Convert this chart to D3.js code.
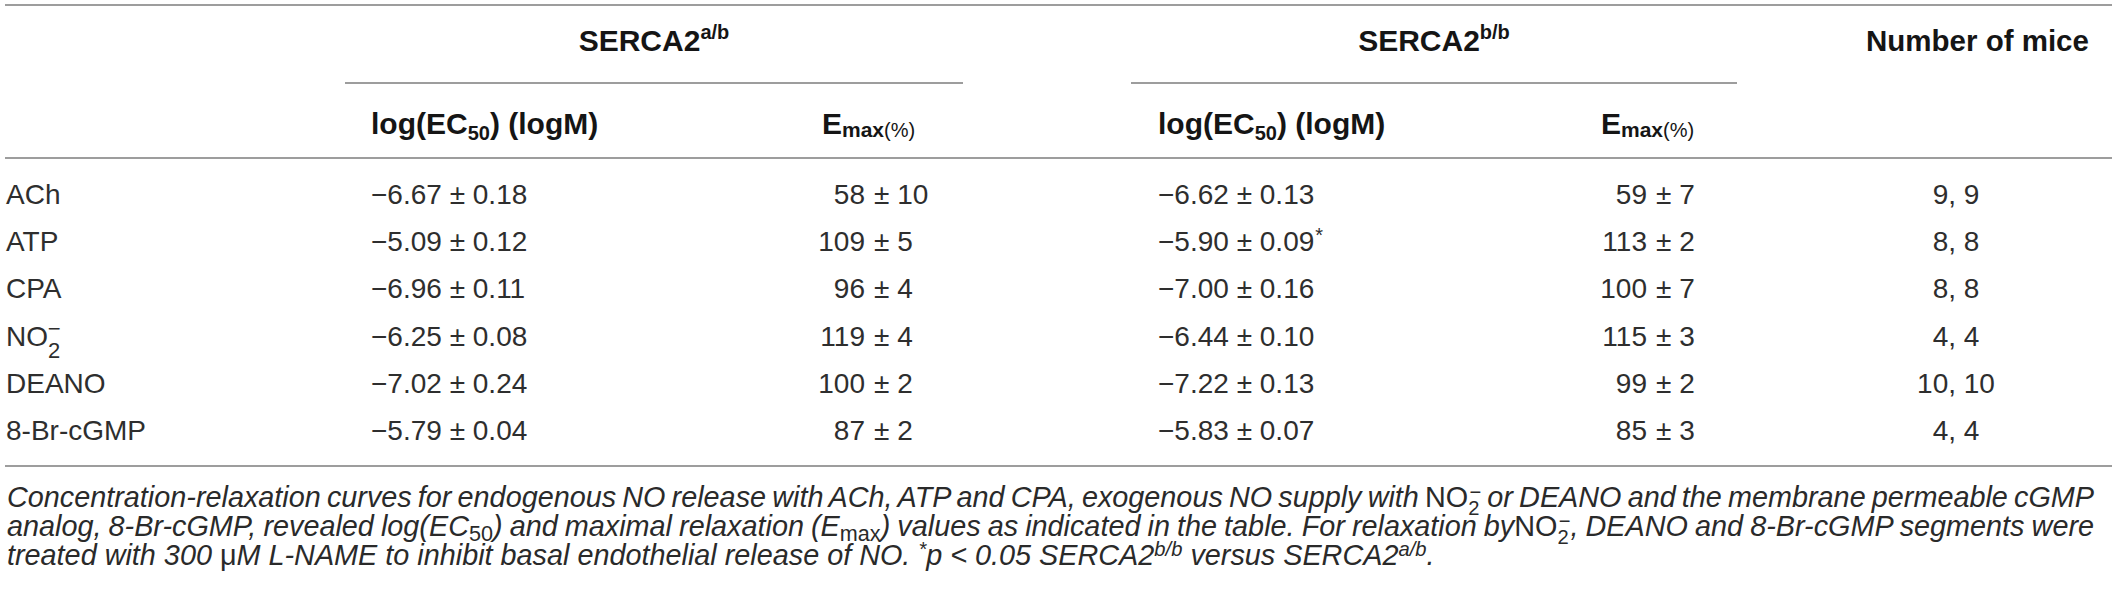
<!DOCTYPE html>
<html><head><meta charset="utf-8">
<script src="https://cdn.jsdelivr.net/npm/d3@7"></script>
<style>html,body{margin:0;padding:0;background:#fff;} svg{display:block;}</style>
</head><body>
<svg id="chart" width="2118" height="594"></svg>
<script>
// ---------- DATA ----------
const agents = ["ACh", "ATP", "CPA", "NO2", "DEANO", "8-Br-cGMP"];
const logEC50_ab     = [-6.67, -5.09, -6.96, -6.25, -7.02, -5.79];
const logEC50_ab_sem = [0.18, 0.12, 0.11, 0.08, 0.24, 0.04];
const emax_ab        = [58, 109, 96, 119, 100, 87];
const emax_ab_sem    = [10, 5, 4, 4, 2, 2];
const logEC50_bb     = [-6.62, -5.90, -7.00, -6.44, -7.22, -5.83];
const logEC50_bb_sem = [0.13, 0.09, 0.16, 0.10, 0.13, 0.07];
const emax_bb        = [59, 113, 100, 115, 99, 85];
const emax_bb_sem    = [7, 2, 7, 3, 2, 3];
const signif_bb      = [false, true, false, false, false, false];
const mice_ab        = [9, 8, 8, 4, 10, 4];
const mice_bb        = [9, 8, 8, 4, 10, 4];
const groupLabels    = [["SERCA2", "a/b"], ["SERCA2", "b/b"]];
const miceHeader     = "Number of mice";

// ---------- LAYOUT ----------
const FONT = "'Liberation Sans', Arial, Helvetica, sans-serif";
const svg = d3.select("#chart").attr("font-family", FONT);
const y = d3.scalePoint().domain(agents).range([204, 440]);
const colX = {label: 6, log1: 371, em1: 874, log2: 1158, em2: 1656, mice: 1956};
const emHeadX = {em1: 822, em2: 1601};
const groupSpan = [[345, 963], [1131, 1737]];
const RULE = "#7d7d7d", TXT = "#2e2e2e", HEAD = "#151515";

function rich(text, segs) {
  let cur = 0;
  segs.forEach(s => {
    const off = s.off || 0;
    const ts = text.append("tspan").text(s.t).attr("dy", off - cur);
    cur = off;
    if (s.size) ts.attr("font-size", s.size);
    if (s.weight) ts.attr("font-weight", s.weight);
    if (s.style) ts.attr("font-style", s.style);
    if (s.dx) ts.attr("dx", s.dx);
  });
  return text;
}

// rules
const rules = [
  {x1: 5, x2: 2112, y: 5},
  {x1: groupSpan[0][0], x2: groupSpan[0][1], y: 83},
  {x1: groupSpan[1][0], x2: groupSpan[1][1], y: 83},
  {x1: 5, x2: 2112, y: 158},
  {x1: 5, x2: 2112, y: 466}
];
svg.selectAll("line.rule").data(rules).join("line")
  .attr("class", "rule")
  .attr("x1", d => d.x1).attr("x2", d => d.x2)
  .attr("y1", d => d.y).attr("y2", d => d.y)
  .attr("stroke", RULE).attr("stroke-width", 1.7);

// header row 1
groupLabels.forEach((g, i) => {
  const t = svg.append("text")
    .attr("x", (groupSpan[i][0] + groupSpan[i][1]) / 2).attr("y", 51)
    .attr("text-anchor", "middle").attr("font-size", 30).attr("font-weight", "bold").attr("fill", HEAD);
  rich(t, [{t: g[0]}, {t: g[1], size: 20, off: -12}]);
});
svg.append("text").attr("x", 1866).attr("y", 51).attr("font-size", 29.5)
  .attr("font-weight", "bold").attr("fill", HEAD).text(miceHeader);

// header row 2
["log1", "log2"].forEach(k => {
  const t = svg.append("text").attr("x", colX[k]).attr("y", 134)
    .attr("font-size", 30).attr("font-weight", "bold").attr("fill", HEAD);
  rich(t, [{t: "log(EC"}, {t: "50", size: 20, off: 6}, {t: ") (logM)", off: 0}]);
});
["em1", "em2"].forEach(k => {
  const t = svg.append("text").attr("x", emHeadX[k]).attr("y", 134)
    .attr("font-size", 30).attr("font-weight", "bold").attr("fill", HEAD);
  rich(t, [{t: "E"}, {t: "max", size: 21, off: 3}, {t: "(%)", size: 20, off: 3, weight: "normal"}]);
});

// body
const f2 = d3.format(".2f");
const body = svg.append("g").attr("font-size", 28).attr("fill", TXT);

agents.forEach((a, i) => {
  const yy = y(a);
  const lab = body.append("text").attr("x", colX.label).attr("y", yy);
  if (a === "NO2") {
    rich(lab, [{t: "NO"}, {t: "2", size: 22, off: 12}, {t: "\u2212", size: 22, off: -10, dx: -12.5}]);
  } else lab.text(a);

  body.append("text").attr("x", colX.log1).attr("y", yy)
    .text(`${f2(logEC50_ab[i])} \u00b1 ${f2(logEC50_ab_sem[i])}`);
  const l2 = body.append("text").attr("x", colX.log2).attr("y", yy);
  const segs2 = [{t: `${f2(logEC50_bb[i])} \u00b1 ${f2(logEC50_bb_sem[i])}`}];
  if (signif_bb[i]) segs2.push({t: "*", size: 20, off: -9, dx: 1});
  rich(l2, segs2);

  // Emax columns aligned on ±
  [[emax_ab, emax_ab_sem, "em1"], [emax_bb, emax_bb_sem, "em2"]].forEach(([m, s, k]) => {
    body.append("text").attr("x", colX[k] - 9).attr("y", yy).attr("text-anchor", "end").text(m[i]);
    body.append("text").attr("x", colX[k]).attr("y", yy).text(`\u00b1 ${s[i]}`);
  });

  body.append("text").attr("x", colX.mice).attr("y", yy).attr("text-anchor", "middle")
    .text(`${mice_ab[i]}, ${mice_bb[i]}`);
});

// ---------- CAPTION ----------
const I = "italic";
const capLines = [
  [{t: "Concentration-relaxation curves for endogenous NO release with ACh, ATP and CPA, exogenous NO supply with ", style: I},
   {t: "NO", style: "normal"}, {t: "2", size: "0.7em", off: 8, style: "normal"}, {t: "\u2212", size: "0.7em", off: -8, dx: -10, style: "normal"},
   {t: " or DEANO and the membrane permeable cGMP", style: I, off: 0}],
  [{t: "analog, 8-Br-cGMP, revealed log(EC", style: I}, {t: "50", size: "0.75em", off: 5, style: "normal"},
   {t: ") and maximal relaxation (E", style: I, off: 0}, {t: "max", size: "0.75em", off: 5, style: "normal"},
   {t: ") values as indicated in the table. For relaxation by", style: I, off: 0},
   {t: "NO", style: "normal"}, {t: "2", size: "0.7em", off: 8, style: "normal"}, {t: "\u2212", size: "0.7em", off: -8, dx: -10, style: "normal"},
   {t: ", DEANO and 8-Br-cGMP segments were", style: I, off: 0}],
  [{t: "treated with 300 ", style: I}, {t: "\u03bc", style: "normal"}, {t: "M L-NAME to inhibit basal endothelial release of NO. ", style: I},
   {t: "*", size: "0.7em", off: -9, style: I}, {t: "p < 0.05 SERCA2", style: I, off: 0},
   {t: "b/b", size: "0.7em", off: -9, style: I}, {t: " versus SERCA2", style: I, off: 0},
   {t: "a/b", size: "0.7em", off: -9, style: I}, {t: ".", style: I, off: 0}]
];
const capY = [507, 536, 565];
const capG = svg.append("g").attr("fill", "#2a2a2a");
const capTexts = capLines.map((segs, i) => {
  const t = capG.append("text").attr("x", 7).attr("y", capY[i]).attr("font-size", 26);
  rich(t, segs);
  return t;
});
// size so that the last (ragged) line ends where it does, then justify the first two
const w3 = capTexts[2].node().getComputedTextLength();
let fs = 26 * 1428 / w3;
fs = Math.max(24, Math.min(29, fs));
capTexts.forEach(t => t.attr("font-size", fs));
[0, 1].forEach(i => {
  const t = capTexts[i];
  const nat = t.node().getComputedTextLength();
  const nSp = (t.text().match(/ /g) || []).length;
  t.style("word-spacing", ((2097 - nat) / nSp) + "px");
});
</script>
</body></html>
